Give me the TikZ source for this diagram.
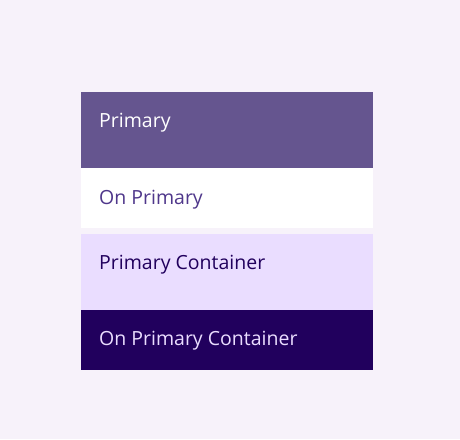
\documentclass[tikz,border=0pt]{standalone}
\usepackage{fontspec}
\setmainfont{Open Sans}
\usetikzlibrary{positioning}

\definecolor{pagebg}{HTML}{F7F2FA}
\definecolor{primary}{HTML}{65558F}
\definecolor{onprimary}{HTML}{FFFFFF}
\definecolor{onprimarytext}{HTML}{4F378B}
\definecolor{primarycont}{HTML}{EADDFF}
\definecolor{onprimarycont}{HTML}{21005D}

\tikzset{
  swatch/.style={rectangle, anchor=north west, inner sep=0, outer sep=0,
    minimum width=292pt},
  swatchtext/.style={anchor=base west, inner sep=0,
    font=\fontsize{19.5}{23}\selectfont}
}

\begin{document}
\begin{tikzpicture}[x=1pt, y=-1pt]
  \fill[pagebg] (0,0) rectangle (460,439);
  \useasboundingbox (0,0) rectangle (460,439);

  % swatches
  \node[swatch, fill=primary, minimum height=76pt] (primary) at (81,92) {};
  \node[swatch, fill=onprimary, minimum height=60pt] (onprimary) at (81,168) {};
  \node[swatch, fill=primarycont, minimum height=76pt] (primarycont) at (81,234) {};
  \node[swatch, fill=onprimarycont, minimum height=60pt] (onprimarycont) at (81,310) {};

  % labels
  \node[swatchtext, text=white] (tprimary) at (99,127) {Primary};
  \node[swatchtext, text=onprimarytext] (tonprimary) at (99,204) {On Primary};
  \node[swatchtext, text=onprimarycont] (tprimarycont) at (99,269) {Primary Container};
  \node[swatchtext, text=primarycont] (tonprimarycont) at (99,345) {On Primary Container};
\end{tikzpicture}
\end{document}
